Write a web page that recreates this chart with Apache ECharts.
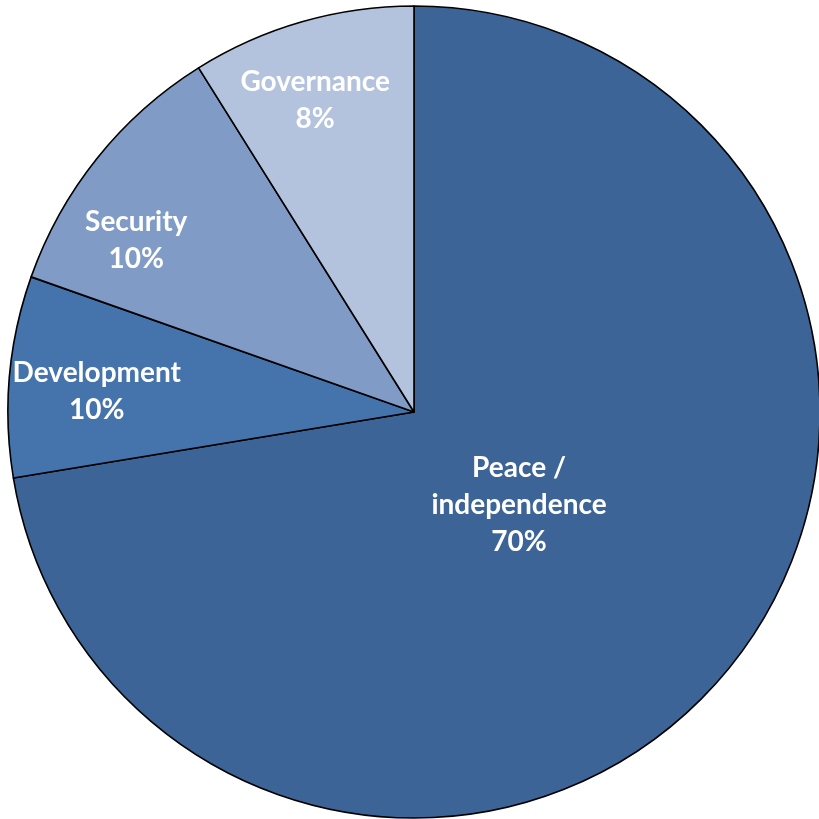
<!DOCTYPE html>
<html>
<head>
<meta charset="utf-8">
<script src="https://cdn.jsdelivr.net/npm/echarts@6/dist/echarts.min.js"></script>
<style>html,body{margin:0;padding:0;background:#fff;}#c{width:819px;height:819px;}</style>
</head>
<body>
<div id="c"></div>
<script>
// Data
const categories = ['Peace /\nindependence', 'Development', 'Security', 'Governance'];
const shares = [72.4, 8.0, 10.7, 8.9];           // slice sizes (from angles)
const shownLabels = ['70%', '10%', '10%', '8%'];  // percentages as printed

const colors = ['#3C6496', '#4573AB', '#7F9BC6', '#B3C2DD'];
const labelOffsets = [[-52, -40], [-112, -2], [-117, -43], [-42, -114]];

const chart = echarts.init(document.getElementById('c'), null, {renderer: 'canvas'});
chart.setOption({
  animation: false,
  backgroundColor: '#ffffff',
  series: [{
    type: 'pie',
    center: [414, 412],
    radius: [0, 406],
    startAngle: 90,
    clockwise: true,
    avoidLabelOverlap: false,
    silent: true,
    emphasis: {disabled: true},
    labelLine: {show: false},
    itemStyle: {borderColor: '#000000', borderWidth: 1.6},
    label: {
      show: true,
      position: 'inside',
      color: '#ffffff',
      fontFamily: 'Lato',
      fontWeight: 'bold',
      fontSize: 28,
      lineHeight: 37,
      align: 'center',
      formatter: p => p.name + '\n' + shownLabels[p.dataIndex]
    },
    data: categories.map((name, i) => ({
      name: name,
      value: shares[i],
      itemStyle: {color: colors[i]},
      label: {offset: labelOffsets[i]}
    }))
  }]
});
</script>
</body>
</html>
